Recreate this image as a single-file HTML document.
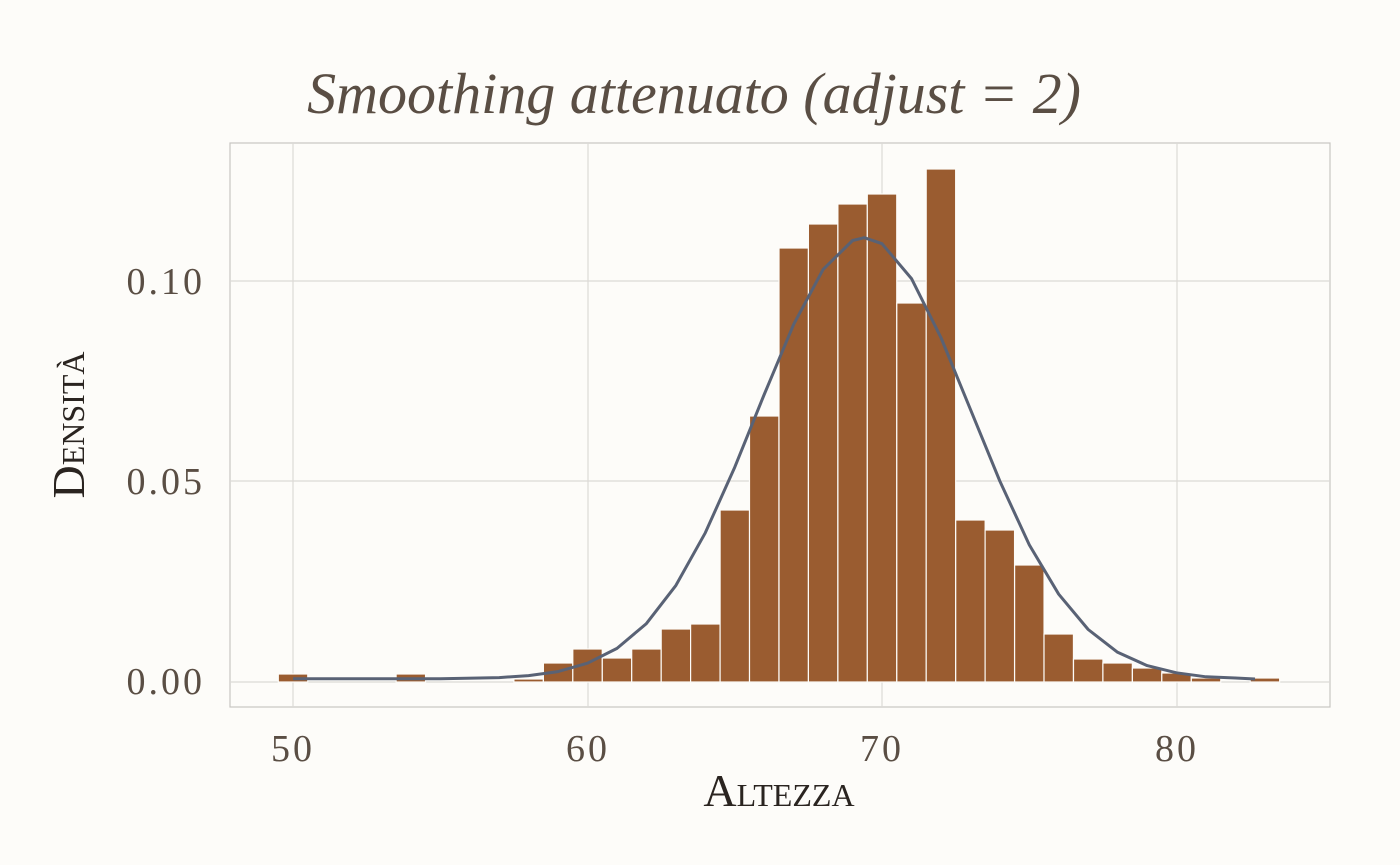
<!DOCTYPE html>
<html><head><meta charset="utf-8"><style>
html,body{margin:0;padding:0;background:#fdfcf9;}
svg{display:block;}
</style></head><body>
<svg width="1400" height="865" viewBox="0 0 1400 865" xmlns="http://www.w3.org/2000/svg">
<rect width="1400" height="865" fill="#fdfcf9"/>
<rect x="230" y="143" width="1100" height="564" fill="#fdfcf9" stroke="#c8c6c2" stroke-width="1.2"/>
<g stroke="#dcdad6" stroke-width="1.2">
<line x1="293" y1="143" x2="293" y2="707"/>
<line x1="588" y1="143" x2="588" y2="707"/>
<line x1="882" y1="143" x2="882" y2="707"/>
<line x1="1177" y1="143" x2="1177" y2="707"/>
<line x1="230" y1="682" x2="1330" y2="682"/>
<line x1="230" y1="481" x2="1330" y2="481"/>
<line x1="230" y1="281" x2="1330" y2="281"/>
</g>
<g fill="#9a5c30" stroke="#fdfcf9" stroke-width="1.2">
<rect x="278.3" y="674" width="29.45" height="8"/>
<rect x="396.1" y="674" width="29.45" height="8"/>
<rect x="513.9" y="679" width="29.45" height="3"/>
<rect x="543.4" y="663" width="29.45" height="19"/>
<rect x="572.8" y="649" width="29.45" height="33"/>
<rect x="602.3" y="658" width="29.45" height="24"/>
<rect x="631.7" y="649" width="29.45" height="33"/>
<rect x="661.2" y="629" width="29.45" height="53"/>
<rect x="690.6" y="624" width="29.45" height="58"/>
<rect x="720.1" y="510" width="29.45" height="172"/>
<rect x="749.5" y="416" width="29.45" height="266"/>
<rect x="779.0" y="248" width="29.45" height="434"/>
<rect x="808.4" y="224" width="29.45" height="458"/>
<rect x="837.9" y="204" width="29.45" height="478"/>
<rect x="867.3" y="194" width="29.45" height="488"/>
<rect x="896.8" y="303" width="29.45" height="379"/>
<rect x="926.2" y="169" width="29.45" height="513"/>
<rect x="955.7" y="520" width="29.45" height="162"/>
<rect x="985.1" y="530" width="29.45" height="152"/>
<rect x="1014.6" y="565" width="29.45" height="117"/>
<rect x="1044.0" y="634" width="29.45" height="48"/>
<rect x="1073.5" y="659" width="29.45" height="23"/>
<rect x="1102.9" y="663" width="29.45" height="19"/>
<rect x="1132.4" y="668" width="29.45" height="14"/>
<rect x="1161.8" y="673" width="29.45" height="9"/>
<rect x="1191.3" y="678" width="29.45" height="4"/>
<rect x="1250.2" y="678" width="29.45" height="4"/>
</g>
<path fill="none" stroke="#596275" stroke-width="3" stroke-linejoin="round"
d="M293,678.8 L440.3,678.7 L499.2,677.6 L528.6,675.6 L558,671.6 L587.5,663.2 L617,648.4 L646.4,623.6 L675.9,585.4 L705.3,532.8 L734.8,467.1 L764.2,394.5 L793.7,324.3 L823.1,269.4 L852.6,240.5 L864.4,237.7 L882,243.7 L911.5,278.6 L940.9,337.5 L970.4,409.3 L999.8,481 L1029.3,544.9 L1058.7,594.2 L1088.2,629.5 L1117.6,652.3 L1147.1,665.6 L1176.5,672.8 L1206,676.8 L1235.4,678 L1255,679"/>
<g font-family="Liberation Serif, serif" fill="#5a4e44" font-size="38" letter-spacing="3">
<text x="205" y="694" text-anchor="end">0.00</text>
<text x="205" y="494" text-anchor="end">0.05</text>
<text x="205" y="294" text-anchor="end">0.10</text>
<text x="293" y="761" text-anchor="middle">50</text>
<text x="588" y="761" text-anchor="middle">60</text>
<text x="882" y="761" text-anchor="middle">70</text>
<text x="1177" y="761" text-anchor="middle">80</text>
</g>
<text x="779" y="806" text-anchor="middle" font-family="Liberation Serif, serif" font-size="46" fill="#2a2420" style="font-variant:small-caps">Altezza</text>
<text transform="translate(84,425) rotate(-90)" text-anchor="middle" font-family="Liberation Serif, serif" font-size="46" fill="#2a2420" style="font-variant:small-caps">Densità</text>
<text x="694" y="113" text-anchor="middle" font-family="Liberation Serif, serif" font-style="italic" font-size="58" fill="#5a4e44">Smoothing attenuato (adjust = 2)</text>
</svg>
</body></html>
